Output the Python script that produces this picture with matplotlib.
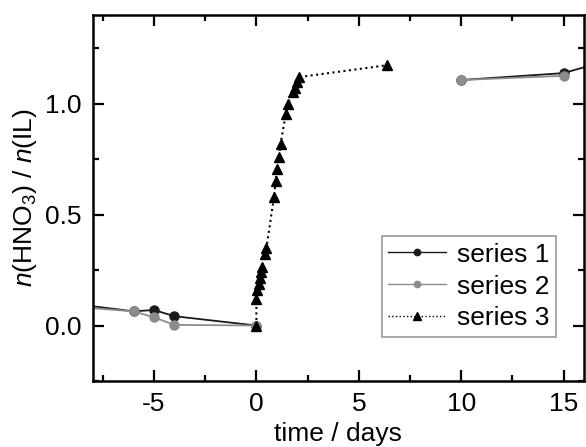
import numpy as np
import matplotlib
matplotlib.use('Agg')
import matplotlib.pyplot as plt

plt.rcParams['font.family'] = ['Liberation Sans', 'DejaVu Sans']
plt.rcParams['mathtext.fontset'] = 'custom'
plt.rcParams['mathtext.rm'] = 'Liberation Sans'
plt.rcParams['mathtext.it'] = 'Liberation Sans:italic'
plt.rcParams['axes.unicode_minus'] = False

# data (nan = gap in the line)
x1 = [-10, -6, -5, -4, 0, np.nan, 10, 15, 20]
y1 = [0.11, 0.064, 0.070, 0.042, 0.0, np.nan, 1.107, 1.138, 1.27]

x2 = [-10, -6, -5, -4, 0, np.nan, 10, 15]
y2 = [0.092, 0.064, 0.037, 0.003, 0.0, np.nan, 1.107, 1.126]

x3 = [0, 0.0, 0.05, 0.13, 0.18, 0.24, 0.29, 0.42, 0.49, 0.86, 0.94, 1.02,
      1.10, 1.18, 1.43, 1.55, 1.78, 1.88, 1.97, 2.08, 6.4]
y3 = [0, 0.12, 0.158, 0.188, 0.215, 0.24, 0.266, 0.323, 0.35, 0.58, 0.653,
      0.706, 0.758, 0.818, 0.953, 1.0, 1.055, 1.073, 1.098, 1.12, 1.174]

labels = ['series 1', 'series 2', 'series 3']

fig = plt.figure(figsize=(5.86, 4.47), dpi=100)
ax = fig.add_axes([0.158, 0.1477, 0.8386, 0.8187])

ax.plot(x1, y1, '-', color='#1a1a1a', lw=1.3, marker='o', ms=6.5, label=labels[0])
ax.plot(x2, y2, '-', color='#8c8c8c', lw=1.3, marker='o', ms=6.5, label=labels[1])
ax.plot(x3, y3, ':', color='black', lw=1.5, marker='^', ms=7.5, label=labels[2])

ax.set_xlim(-8, 16)
ax.set_ylim(-0.25, 1.40)
ax.set_xticks([-5, 0, 5, 10, 15])
ax.set_xticks(np.arange(-7.5, 16, 2.5), minor=True)
ax.set_yticks([0.0, 0.5, 1.0])
ax.set_yticklabels(['0.0', '0.5', '1.0'])
ax.set_yticks([-0.25, 0.25, 0.75, 1.25], minor=True)

for s in ax.spines.values():
    s.set_linewidth(1.8)
ax.tick_params(which='both', direction='in', top=True, right=True,
               labelsize=19, width=1.6)
ax.tick_params(which='major', length=8, pad=8)
ax.tick_params(which='minor', length=4)

ax.set_xlabel('time / days', fontsize=19, labelpad=4)
ax.set_ylabel(r'$n$(HNO$_3$) / $n$(IL)', fontsize=19, labelpad=4)

leg = ax.legend(loc='lower right', bbox_to_anchor=(0.943, 0.12), borderaxespad=0,
                fontsize=19, fancybox=False, edgecolor='#999999', framealpha=1,
                handlelength=2.2, labelspacing=0.3, markerscale=0.7,
                borderpad=0.25, handletextpad=0.4)
leg.get_frame().set_linewidth(1.2)
for ln in leg.get_lines():
    ln.set_linewidth(1.0)

fig.savefig('out.png', dpi=100)
